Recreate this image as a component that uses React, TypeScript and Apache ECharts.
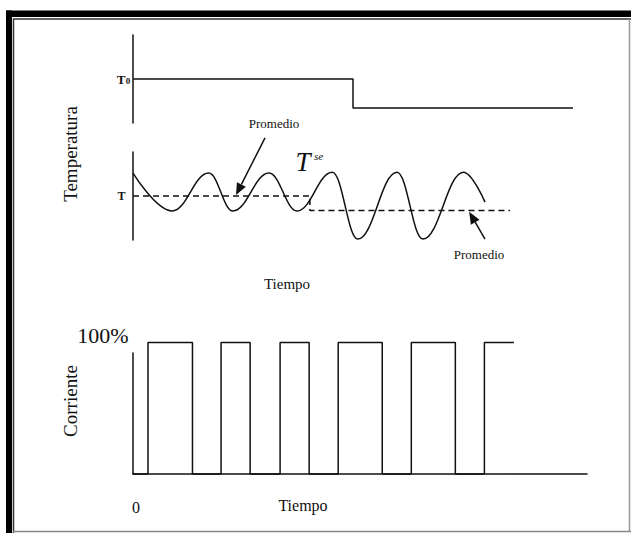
import React, { useEffect, useRef } from "react";
import * as echarts from "echarts";

// Top panel: set-point temperature step
const stepTime = [0, 50, 50, 100];
const stepTemp = [0.5, 0.5, 0.17, 0.17];

// Middle panel: oscillating temperature (extrema)
const waveTime = [0, 8.9, 17.2, 22.7, 30.9, 37.3, 45.3, 51.1, 60, 65.9, 75.1, 80];
const waveTemp = [7.6, 3.3, 7.6, 3.3, 7.6, 3.3, 7.7, 0.1, 7.7, 0.1, 7.7, 4.3];

// Middle panel: average (dashed)
const avgTime = [0, 40.2, 40.2, 85.7];
const avgTemp = [5.0, 5.0, 3.35, 3.35];

// Middle panel: "Promedio" arrows, [tail, tip] in time / temperature units
const arrowTails = [[30, 11.6], [80, 0.1]];
const arrowTips = [[23.4, 5.1], [76.4, 3.2]];

// Bottom panel: on/off current pulses
const pulseOn = [3.3, 19.4, 32.4, 45.2, 61.3, 77.4];
const pulseOff = [13.1, 25.8, 38.8, 54.9, 71.0, 83.9];
const currentLow = 0;
const currentHigh = 100;
const lastPulseOpen = true;

const SERIF = '"Liberation Serif", "Times New Roman", serif';
const INK = "#111";

function zip(a: number[], b: number[]) {
  return a.map((v, i) => [v, b[i]]);
}

function pulseData() {
  const d: number[][] = [[0, currentLow]];
  pulseOn.forEach((on, i) => {
    const off = pulseOff[i];
    d.push([on, currentLow], [on, currentHigh], [off, currentHigh]);
    if (!(lastPulseOpen && i === pulseOn.length - 1)) d.push([off, currentLow]);
  });
  return d;
}

const hiddenAxis = (gridIndex: number, min: number, max: number) => ({
  gridIndex,
  type: "value" as const,
  min,
  max,
  show: false,
});

const lineAxis = (gridIndex: number, min: number, max: number) => ({
  gridIndex,
  type: "value" as const,
  min,
  max,
  axisLine: { show: true, onZero: false, lineStyle: { color: INK, width: 1.5 } },
  axisTick: { show: false },
  axisLabel: { show: false },
  splitLine: { show: false },
});

function txt(
  text: string,
  x: number,
  y: number,
  size: number,
  opts: { bold?: boolean; italic?: boolean; rotation?: number; align?: string } = {}
) {
  return {
    type: "text",
    x,
    y,
    rotation: opts.rotation || 0,
    style: {
      text,
      fill: INK,
      fontFamily: SERIF,
      fontSize: size,
      fontWeight: opts.bold ? "bold" : "normal",
      fontStyle: opts.italic ? "italic" : "normal",
      align: opts.align || "center",
      verticalAlign: "middle",
    },
  };
}

export default function App() {
  const ref = useRef<HTMLDivElement>(null);

  useEffect(() => {
    if (!ref.current) return;
    const chart = echarts.init(ref.current, undefined, { renderer: "svg" });

    const baseGraphics: any[] = [
      // frame
      { type: "rect", shape: { x: 6, y: 10.5, width: 625, height: 6.5 }, style: { fill: "#000" } },
      { type: "rect", shape: { x: 6, y: 10.5, width: 6, height: 523 }, style: { fill: "#000" } },
      {
        type: "polyline",
        shape: { points: [[13.5, 533], [13.5, 19], [631, 19]] },
        style: { stroke: "#333", lineWidth: 1.5, fill: null },
      },
      { type: "line", shape: { x1: 629.5, y1: 19, x2: 629.5, y2: 532 }, style: { stroke: "#999", lineWidth: 1.5 } },
      { type: "line", shape: { x1: 13, y1: 531.5, x2: 631, y2: 531.5 }, style: { stroke: "#888", lineWidth: 1.5 } },
      // labels
      txt("T", 121, 79, 13, { bold: true }),
      txt("0", 128, 81, 9, { bold: true }),
      txt("T", 121.5, 196, 12, { bold: true }),
      txt("Temperatura", 70, 154, 19, { rotation: Math.PI / 2 }),
      txt("Promedio", 274, 123, 13),
      txt("Promedio", 479, 254, 13),
      txt("T", 303, 162, 27, { italic: true }),
      txt("se", 318.5, 156, 11, { italic: true }),
      txt("Tiempo", 287, 284, 15),
      txt("100%", 103, 335, 22),
      txt("Corriente", 70, 401, 19, { rotation: Math.PI / 2 }),
      txt("0", 136, 507, 16),
      txt("Tiempo", 303, 505, 16),
    ];

    const option = {
      animation: false,
      backgroundColor: "#fff",
      grid: [
        { left: 133, width: 440, top: 35, height: 88 },
        { left: 133, width: 440, top: 152, height: 88 },
        { left: 133, width: 454, top: 353, height: 121 },
      ],
      xAxis: [hiddenAxis(0, 0, 100), hiddenAxis(1, 0, 100), lineAxis(2, 0, 100)],
      yAxis: [lineAxis(0, 0, 1), lineAxis(1, 0, 10), lineAxis(2, 0, 92)],
      series: [
        {
          type: "line",
          xAxisIndex: 0,
          yAxisIndex: 0,
          data: zip(stepTime, stepTemp),
          symbol: "none",
          lineStyle: { color: INK, width: 1.5 },
        },
        {
          type: "line",
          xAxisIndex: 1,
          yAxisIndex: 1,
          data: zip(waveTime, waveTemp),
          symbol: "none",
          smooth: 0.4,
          smoothMonotone: "x",
          lineStyle: { color: INK, width: 1.5 },
        },
        {
          type: "line",
          xAxisIndex: 1,
          yAxisIndex: 1,
          data: zip(avgTime, avgTemp),
          symbol: "none",
          lineStyle: { color: INK, width: 1.5, type: [6, 4] },
        },
        {
          type: "line",
          xAxisIndex: 2,
          yAxisIndex: 2,
          data: pulseData(),
          symbol: "none",
          clip: false,
          lineStyle: { color: INK, width: 1.5 },
        },
      ],
      graphic: baseGraphics,
    };

    chart.setOption(option as any);

    // arrows placed through the middle grid's own scales
    const arrowGraphics: any[] = [];
    arrowTails.forEach((tail, i) => {
      const p0 = chart.convertToPixel({ gridIndex: 1 }, tail) as number[];
      const p1 = chart.convertToPixel({ gridIndex: 1 }, arrowTips[i]) as number[];
      const dx = p1[0] - p0[0];
      const dy = p1[1] - p0[1];
      const len = Math.hypot(dx, dy);
      const ux = dx / len;
      const uy = dy / len;
      const headLen = 12;
      const halfW = 5;
      const bx = p1[0] - ux * headLen;
      const by = p1[1] - uy * headLen;
      arrowGraphics.push({
        type: "line",
        shape: { x1: p0[0], y1: p0[1], x2: bx, y2: by },
        style: { stroke: INK, lineWidth: 1.5 },
      });
      arrowGraphics.push({
        type: "polygon",
        shape: {
          points: [
            [p1[0], p1[1]],
            [bx - uy * halfW, by + ux * halfW],
            [bx + uy * halfW, by - ux * halfW],
          ],
        },
        style: { fill: INK },
      });
    });
    chart.setOption({ graphic: baseGraphics.concat(arrowGraphics) } as any);

    return () => chart.dispose();
  }, []);

  return (
    <div
      ref={ref}
      style={{ position: "absolute", left: 0, top: 0, width: 631, height: 533 }}
    />
  );
}
